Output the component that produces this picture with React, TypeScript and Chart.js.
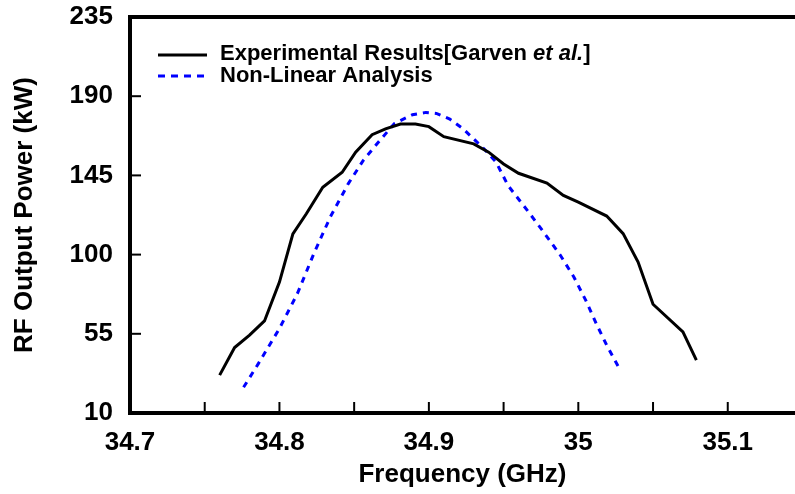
import React, { useEffect, useRef } from 'react';
import { Chart, registerables } from 'chart.js';

Chart.register(...registerables);

// Experimental results [Garven et al.]
const expFreq = [34.760, 34.770, 34.780, 34.790, 34.800, 34.809, 34.818, 34.829, 34.842, 34.851, 34.862, 34.871, 34.881, 34.891, 34.900, 34.910, 34.930, 34.940, 34.950, 34.960, 34.979, 34.990, 35.000, 35.019, 35.030, 35.040, 35.050, 35.070, 35.079];
const expPower = [31.5, 47.2, 54.2, 62.3, 84.4, 111.8, 123.2, 138.3, 146.8, 158.2, 168.1, 171.4, 174.2, 174.2, 172.7, 167.0, 162.9, 158.2, 151.5, 146.2, 140.7, 133.6, 129.8, 121.9, 111.9, 95.8, 71.8, 56.1, 40.0];

// Non-linear analysis
const nlaFreq = [34.776, 34.786, 34.800, 34.812, 34.823, 34.834, 34.846, 34.856, 34.867, 34.877, 34.889, 34.898, 34.905, 34.914, 34.923, 34.937, 34.945, 34.953, 34.966, 34.976, 34.988, 34.997, 35.005, 35.012, 35.019, 35.028];
const nlaPower = [24.6, 38.2, 58.0, 77.8, 100.5, 121.3, 140.2, 153.4, 164.7, 174.5, 179.5, 180.8, 180.2, 177.0, 171.4, 160.0, 152.5, 139.2, 125.0, 113.7, 99.6, 87.3, 74.0, 60.8, 48.5, 34.4];

// Axes
const xMin = 34.7;
const xMax = 35.145;
const xTickValues = [34.7, 34.75, 34.8, 34.85, 34.9, 34.95, 35.0, 35.05, 35.1];
const xTickLabels = ['34.7', '', '34.8', '', '34.9', '', '35', '', '35.1'];
const yMin = 10;
const yMax = 235;
const yTickValues = [10, 55, 100, 145, 190, 235];
const yTickLabels = ['10', '55', '100', '145', '190', '235'];

const xTitle = 'Frequency (GHz)';
const yTitle = 'RF Output Power (kW)';
const legendExp = ['Experimental Results[Garven ', 'et al.', ']'];
const legendNla = 'Non-Linear Analysis';

const FAMILY = '"Liberation Sans", Arial, Helvetica, sans-serif';

const framePlugin = {
  id: 'frameAndLegend',
  afterDraw(chart: any) {
    const { ctx, chartArea: a, scales } = chart;
    const xs = scales.x;
    const ys = scales.y;
    ctx.save();
    // inward tick marks
    ctx.strokeStyle = '#000';
    ctx.lineWidth = 2;
    xs.ticks.forEach((t: any) => {
      const px = xs.getPixelForValue(t.value);
      ctx.beginPath();
      ctx.moveTo(px, a.bottom);
      ctx.lineTo(px, a.bottom - 11);
      ctx.stroke();
    });
    ys.ticks.forEach((t: any) => {
      if (t.value <= yMin || t.value >= yMax) return;
      const py = ys.getPixelForValue(t.value);
      ctx.beginPath();
      ctx.moveTo(a.left, py);
      ctx.lineTo(a.left + 11, py);
      ctx.stroke();
    });
    // top frame line
    ctx.lineWidth = 4;
    ctx.beginPath();
    ctx.moveTo(a.left - 2, a.top);
    ctx.lineTo(a.right, a.top);
    ctx.stroke();

    // legend
    const lx0 = a.left + 28;
    const lx1 = a.left + 77;
    const tx = a.left + 90;
    const y1 = a.top + 38;
    const y2 = a.top + 59;
    ctx.lineWidth = 3;
    ctx.strokeStyle = '#000';
    ctx.beginPath();
    ctx.moveTo(lx0, y1);
    ctx.lineTo(lx1, y1);
    ctx.stroke();
    ctx.strokeStyle = '#0000ff';
    ctx.setLineDash([7, 6]);
    ctx.beginPath();
    ctx.moveTo(lx0, y2);
    ctx.lineTo(lx1 + 2, y2);
    ctx.stroke();
    ctx.setLineDash([]);

    ctx.fillStyle = '#000';
    ctx.textBaseline = 'middle';
    ctx.textAlign = 'left';
    let x = tx;
    legendExp.forEach((part, i) => {
      ctx.font = (i === 1 ? 'italic ' : '') + 'bold 22px ' + FAMILY;
      ctx.fillText(part, x, y1 - 1);
      x += ctx.measureText(part).width;
    });
    ctx.font = 'bold 22px ' + FAMILY;
    ctx.fillText(legendNla, tx, y2);
    ctx.restore();
  },
};

export default function App() {
  const ref = useRef<HTMLCanvasElement>(null);
  useEffect(() => {
    document.body.style.margin = '0';
    const font = { family: FAMILY, size: 26, weight: 'bold' as const };
    const chart = new Chart(ref.current as HTMLCanvasElement, {
      type: 'line',
      data: {
        datasets: [
          {
            label: legendExp.join(''),
            data: expFreq.map((x, i) => ({ x, y: expPower[i] })),
            borderColor: '#000000',
            borderWidth: 3,
            pointRadius: 0,
            tension: 0,
            fill: false,
          },
          {
            label: legendNla,
            data: nlaFreq.map((x, i) => ({ x, y: nlaPower[i] })),
            borderColor: '#0000ff',
            borderWidth: 3,
            borderDash: [6, 6],
            pointRadius: 0,
            tension: 0,
            fill: false,
          },
        ],
      },
      options: {
        animation: false,
        responsive: true,
        maintainAspectRatio: false,
        layout: { padding: { top: 17, right: 0, bottom: 0, left: 0 } },
        plugins: { legend: { display: false }, tooltip: { enabled: false } },
        scales: {
          x: {
            type: 'linear',
            min: xMin,
            max: xMax,
            afterBuildTicks: (s: any) => {
              s.ticks = xTickValues.map((v) => ({ value: v }));
            },
            afterFit: (s: any) => {
              s.height = 81;
              s.paddingLeft = 0;
              s.paddingRight = 0;
            },
            ticks: {
              autoSkip: false,
              maxRotation: 0,
              padding: 14,
              color: '#000',
              font,
              callback: (_v: any, i: number) => xTickLabels[i],
            },
            grid: { display: false, drawTicks: false },
            border: { display: true, color: '#000', width: 4 },
            title: { display: true, text: xTitle, color: '#000', font, padding: { top: 0, bottom: 4 } },
          },
          y: {
            type: 'linear',
            min: yMin,
            max: yMax,
            afterBuildTicks: (s: any) => {
              s.ticks = yTickValues.map((v) => ({ value: v }));
            },
            afterFit: (s: any) => {
              s.width = 130;
              s.paddingTop = 0;
              s.paddingBottom = 0;
            },
            ticks: {
              padding: 17,
              color: '#000',
              font,
              callback: (_v: any, i: number) => yTickLabels[i],
            },
            grid: { display: false, drawTicks: false },
            border: { display: true, color: '#000', width: 4 },
            title: { display: true, text: yTitle, color: '#000', font: { ...font, size: 26 }, padding: { top: 9, bottom: 0 } },
          },
        },
      },
      plugins: [framePlugin],
    });
    return () => chart.destroy();
  }, []);
  return (
    <div style={{ position: 'relative', width: 795, height: 494 }}>
      <canvas ref={ref} style={{ display: 'block' }} />
    </div>
  );
}
